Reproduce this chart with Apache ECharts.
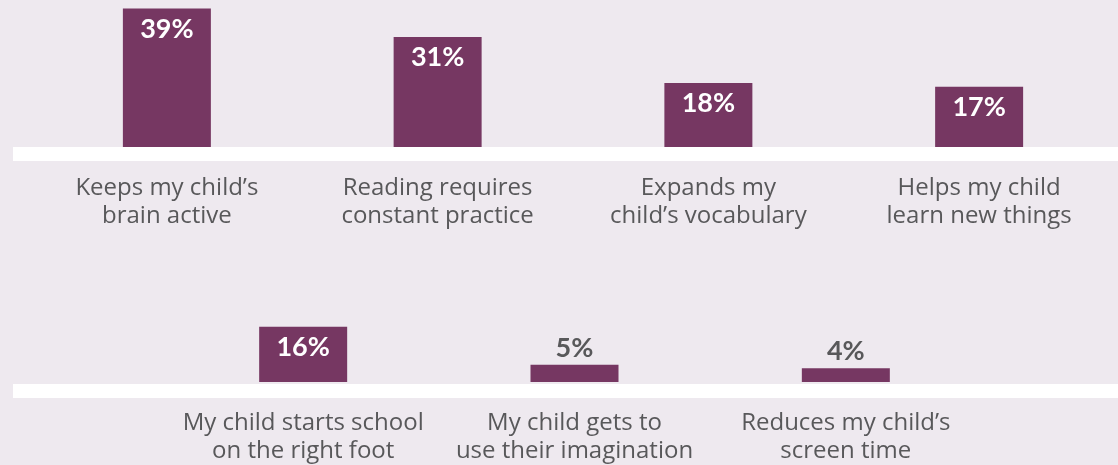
<!DOCTYPE html>
<html>
<head>
<meta charset="utf-8">
<script src="https://cdn.jsdelivr.net/npm/echarts@6/dist/echarts.min.js"></script>
<style>
html,body{margin:0;padding:0;background:#eee9ef;}
#c{width:1118px;height:465px;}
</style>
</head>
<body>
<div id="c"></div>
<script>
const topCategories = ['Keeps my child’s\nbrain active', 'Reading requires\nconstant practice', 'Expands my\nchild’s vocabulary', 'Helps my child\nlearn new things'];
const topValues = [39, 31, 18, 17];
const bottomCategories = ['My child starts school\non the right foot', 'My child gets to\nuse their imagination', 'Reduces my child’s\nscreen time'];
const bottomValues = [16, 5, 4];

const BAR = '#763762';
const GREY = '#58585a';
const FONT = 'Lato, "Open Sans", sans-serif';
const CAT_FONT = '"Open Sans", Lato, sans-serif';

function barData(values) {
  return values.map(v => {
    const inside = v >= 10;
    return {
      value: v,
      label: inside
        ? { position: 'insideTop', distance: 7, color: '#ffffff' }
        : { position: 'top', distance: 3, color: GREY }
    };
  });
}

const chart = echarts.init(document.getElementById('c'), null, { renderer: 'canvas' });

const catAxisCommon = {
  type: 'category',
  axisLine: { show: false },
  axisTick: { show: false },
  axisLabel: {
    color: GREY, fontFamily: CAT_FONT, fontSize: 24, lineHeight: 28, margin: 27,
    interval: 0
  }
};
const valAxisCommon = {
  type: 'value', min: 0, max: 40,
  show: false, splitLine: { show: false }
};

chart.setOption({
  backgroundColor: '#eee9ef',
  animation: false,
  grid: [
    { left: 31.5, right: 3.5, top: 5, bottom: 318 },
    { left: 167.5, right: 136.5, top: 244, bottom: 81 }
  ],
  xAxis: [
    Object.assign({ gridIndex: 0, data: topCategories }, catAxisCommon),
    Object.assign({ gridIndex: 1, data: bottomCategories }, catAxisCommon)
  ],
  yAxis: [
    Object.assign({ gridIndex: 0 }, valAxisCommon),
    Object.assign({ gridIndex: 1 }, valAxisCommon)
  ],
  graphic: [
    { type: 'rect', left: 13, top: 147, shape: { width: 1105, height: 14 }, style: { fill: '#ffffff' }, z: 1 },
    { type: 'rect', left: 13, top: 384, shape: { width: 1105, height: 14 }, style: { fill: '#ffffff' }, z: 1 }
  ],
  series: [
    {
      type: 'bar', xAxisIndex: 0, yAxisIndex: 0, barWidth: 88,
      data: barData(topValues),
      itemStyle: { color: BAR },
      label: { show: true, formatter: '{c}%', fontFamily: FONT, fontWeight: 'bold', fontSize: 27 }
    },
    {
      type: 'bar', xAxisIndex: 1, yAxisIndex: 1, barWidth: 88,
      data: barData(bottomValues),
      itemStyle: { color: BAR },
      label: { show: true, formatter: '{c}%', fontFamily: FONT, fontWeight: 'bold', fontSize: 27 }
    }
  ]
});
</script>
</body>
</html>
